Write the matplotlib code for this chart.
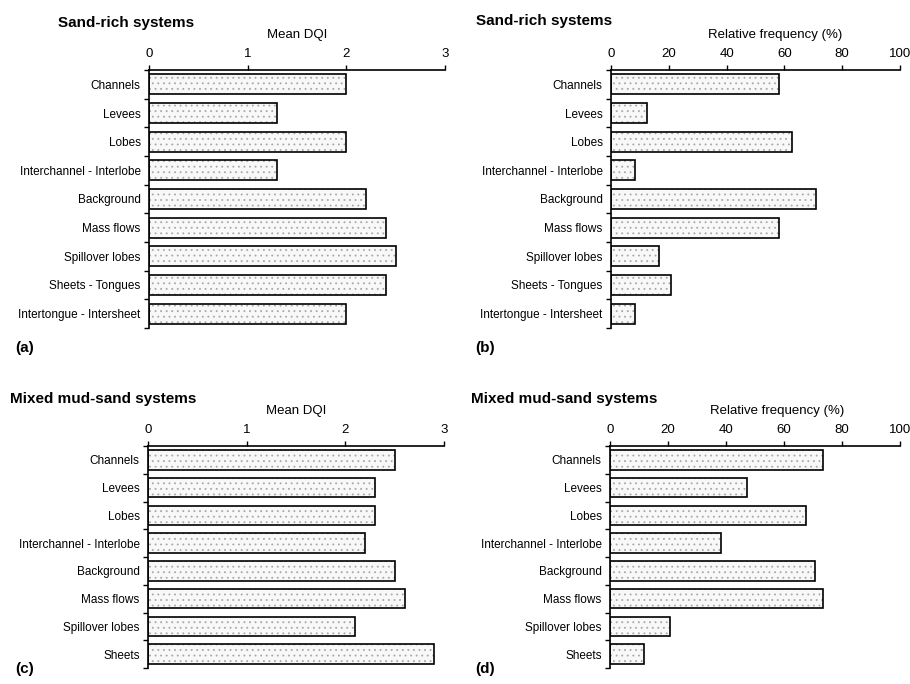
import matplotlib
matplotlib.use("Agg")
import matplotlib.pyplot as plt
import numpy as np

plt.rcParams['font.family'] = ['Liberation Sans', 'DejaVu Sans']
plt.rcParams['hatch.linewidth'] = 0.6

# Sand-rich systems
sand_categories = ["Channels", "Levees", "Lobes", "Interchannel - Interlobe",
                   "Background", "Mass flows", "Spillover lobes",
                   "Sheets - Tongues", "Intertongue - Intersheet"]
sand_dqi = [2.0, 1.3, 2.0, 1.3, 2.2, 2.4, 2.5, 2.4, 2.0]
sand_freq = [58.3, 12.5, 62.5, 8.3, 70.8, 58.3, 16.7, 20.8, 8.3]

# Mixed mud-sand systems
mixed_categories = ["Channels", "Levees", "Lobes", "Interchannel - Interlobe",
                    "Background", "Mass flows", "Spillover lobes", "Sheets"]
mixed_dqi = [2.5, 2.3, 2.3, 2.2, 2.5, 2.6, 2.1, 2.9]
mixed_freq = [73.5, 47.1, 67.6, 38.2, 70.6, 73.5, 20.6, 11.8]

dqi_ticks = [0, 1, 2, 3]
freq_ticks = [0, 20, 40, 60, 80, 100]

W, H = 910, 684
fig = plt.figure(figsize=(W / 100, H / 100), dpi=100)


def make_axes(left, right, top, bottom):
    return fig.add_axes([left / W, 1 - bottom / H, (right - left) / W, (bottom - top) / H])


def draw_panel(ax, cats, vals, xmax, ticks, xlabel, label_x):
    y = np.arange(len(cats))
    ax.barh(y, vals, height=0.7, facecolor='#f8f8f8', edgecolor='#a8a8a8',
            hatch='...', linewidth=0, zorder=2)
    ax.barh(y, vals, height=0.7, fill=False, edgecolor='black',
            linewidth=1.2, zorder=3)
    ax.set_xlim(0, xmax)
    ax.set_ylim(len(cats) - 0.5, -0.5)
    ax.xaxis.set_ticks_position('top')
    ax.xaxis.set_label_position('top')
    ax.set_xticks(ticks)
    ax.set_xticklabels([str(t) for t in ticks], fontsize=9.5)
    ax.tick_params(axis='x', direction='out', length=3.5, width=1, pad=4)
    ax.set_xlabel(xlabel, fontsize=9.5)
    ax.xaxis.set_label_coords(label_x, 1.0 + 32 / ax.bbox.height, transform=ax.transAxes)
    ax.set_yticks(y)
    ax.set_yticklabels(cats, fontsize=8.5)
    ax.set_yticks(np.arange(len(cats) + 1) - 0.5, minor=True)
    ax.tick_params(axis='y', which='major', length=0, pad=6)
    ax.tick_params(axis='y', which='minor', direction='out', length=3.5, width=1)
    for s in ('right', 'bottom'):
        ax.spines[s].set_visible(False)
    for s in ('top', 'left'):
        ax.spines[s].set_linewidth(1.2)


ax_a = make_axes(149, 445, 70, 328)
ax_b = make_axes(611, 900, 70, 328)
ax_c = make_axes(148, 444, 446, 668)
ax_d = make_axes(610, 900, 446, 668)

draw_panel(ax_a, sand_categories, sand_dqi, 3, dqi_ticks, "Mean DQI", 0.5)
draw_panel(ax_b, sand_categories, sand_freq, 100, freq_ticks, "Relative frequency (%)", 0.567)
draw_panel(ax_c, mixed_categories, mixed_dqi, 3, dqi_ticks, "Mean DQI", 0.5)
draw_panel(ax_d, mixed_categories, mixed_freq, 100, freq_ticks, "Relative frequency (%)", 0.575)

title_kw = dict(fontsize=11, fontweight='bold', va='center', ha='left')
fig.text(58 / W, 1 - 23 / H, "Sand-rich systems", **title_kw)
fig.text(476 / W, 1 - 21 / H, "Sand-rich systems", **title_kw)
fig.text(10 / W, 1 - 399 / H, "Mixed mud-sand systems", **title_kw)
fig.text(471 / W, 1 - 399 / H, "Mixed mud-sand systems", **title_kw)

panel_kw = dict(fontsize=11, fontweight='bold', va='center', ha='left')
fig.text(15 / W, 1 - 348 / H, "(a)", **panel_kw)
fig.text(475 / W, 1 - 348 / H, "(b)", **panel_kw)
fig.text(15 / W, 1 - 669 / H, "(c)", **panel_kw)
fig.text(475 / W, 1 - 669 / H, "(d)", **panel_kw)

fig.savefig("out.png", dpi=100)
